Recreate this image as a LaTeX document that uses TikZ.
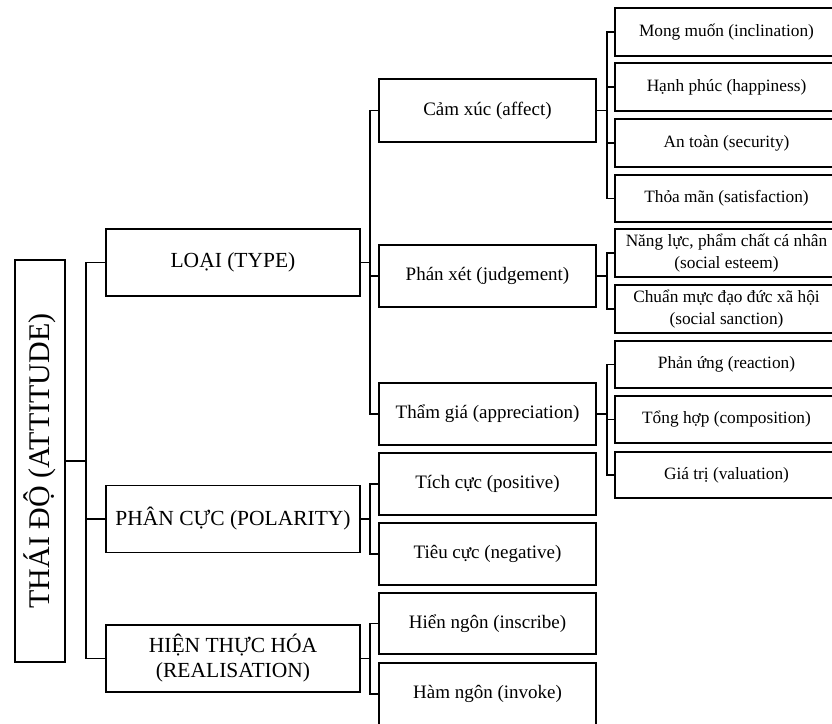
\documentclass[tikz,border=0pt]{standalone}
\usepackage{fontspec}
\setmainfont{Liberation Serif}
\begin{document}
\begin{tikzpicture}[x=1pt,y=-1pt,
  box/.style={draw, line width=1.6pt, rectangle, inner sep=0pt, align=center},
  rootbox/.style={box, minimum width=402pt, minimum height=50pt, rotate=90, font=\fontsize{30}{34}\selectfont},
  lone/.style={box, minimum width=254pt, minimum height=67pt, font=\fontsize{21.5}{25}\selectfont},
  ltwo/.style={box, minimum width=217pt, minimum height=62pt, font=\fontsize{19}{22}\selectfont},
  lthree/.style={box, minimum width=223pt, minimum height=48pt, font=\fontsize{17.3}{22}\selectfont},
  conn/.style={line width=1.6pt}]
\useasboundingbox (0,0) rectangle (832,723);
% root
\node[rootbox] (root) at (40,461) {THÁI ĐỘ (ATTITUDE)};
% level 1
\node[lone] (type) at (233,262.5) {LOẠI (TYPE)};
\node[lone] (pol) at (233,519) {PHÂN CỰC (POLARITY)};
\node[lone] (real) at (233,658.5) {HIỆN THỰC HÓA\\(REALISATION)};
% level 2
\node[ltwo, minimum height=63pt] (aff) at (487.5,110.5) {Cảm xúc (affect)};
\node[ltwo] (jud) at (487.5,276) {Phán xét (judgement)};
\node[ltwo] (app) at (487.5,414) {Thẩm giá (appreciation)};
\node[ltwo] (posi) at (487.5,484) {Tích cực (positive)};
\node[ltwo] (nega) at (487.5,554) {Tiêu cực (negative)};
\node[ltwo, minimum height=61pt] (insc) at (487.5,623.5) {Hiển ngôn (inscribe)};
\node[ltwo] (invo) at (487.5,694) {Hàm ngôn (invoke)};
% level 3
\node[lthree] (incl) at (726.5,32) {Mong muốn (inclination)};
\node[lthree] (happ) at (726.5,87) {Hạnh phúc (happiness)};
\node[lthree] (secu) at (726.5,143) {An toàn (security)};
\node[lthree, minimum height=47pt] (sati) at (726.5,198.5) {Thỏa mãn (satisfaction)};
\node[lthree] (este) at (726.5,253) {Năng lực, phẩm chất cá nhân\\(social esteem)};
\node[lthree] (sanc) at (726.5,309) {Chuẩn mực đạo đức xã hội\\(social sanction)};
\node[lthree, minimum height=47pt] (reac) at (726.5,364.5) {Phản ứng (reaction)};
\node[lthree, minimum height=47pt] (comp) at (726.5,419.5) {Tổng hợp (composition)};
\node[lthree, minimum height=46pt] (valu) at (726.5,475) {Giá trị (valuation)};
% connectors
\foreach \c in {type,pol,real}
  \draw[conn] (root.south) -- ++(20,0) |- (\c.west);
\foreach \c in {aff,jud,app}
  \draw[conn] (type.east) -- ++(9,0) |- (\c.west);
\foreach \c in {posi,nega}
  \draw[conn] (pol.east) -- ++(9,0) |- (\c.west);
\foreach \c in {insc,invo}
  \draw[conn] (real.east) -- ++(9,0) |- (\c.west);
\foreach \c in {incl,happ,secu,sati}
  \draw[conn] (aff.east) -- ++(10,0) |- (\c.west);
\foreach \c in {este,sanc}
  \draw[conn] (jud.east) -- ++(10,0) |- (\c.west);
\foreach \c in {reac,comp,valu}
  \draw[conn] (app.east) -- ++(10,0) |- (\c.west);
\end{tikzpicture}
\end{document}
